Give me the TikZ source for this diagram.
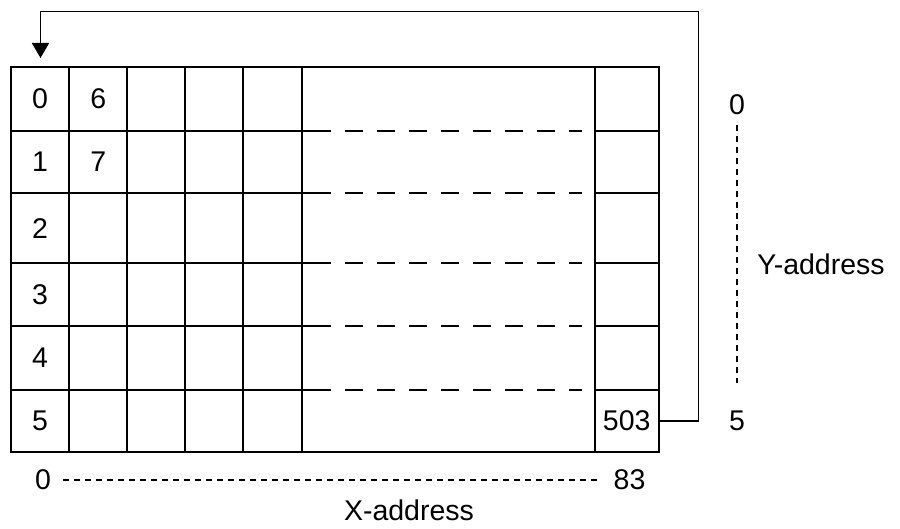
\documentclass[tikz,border=0pt]{standalone}
\usepackage{fontspec}
\setmainfont{Liberation Sans}
\usetikzlibrary{arrows.meta}
\begin{document}
\begin{tikzpicture}[x=1pt,y=-1pt,
  lbl/.style={font=\fontsize{28.5}{30}\selectfont, inner sep=0pt},
  gridline/.style={line width=2pt, line cap=rect},
  axisline/.style={line width=1.2pt, dash pattern=on 6pt off 5pt},
  gapdash/.style={line width=2pt, dash pattern=on 18pt off 14pt},
  loopline/.style={line width=1.8pt, -{Triangle[width=17pt,length=15pt]}}]
\useasboundingbox (0,0) rectangle (900,529);
% outer frame top and bottom
\draw[gridline] (11,67) -- (658.5,67);
\draw[gridline] (11,452.3) -- (658.5,452.3);
% interior row lines
\foreach \y in {130.7,193.3,263.3,326,390}{
  \draw[gridline] (11,\y) -- (330,\y);
  \draw[gapdash] (345,\y) -- (582,\y);
  \draw[gridline] (595,\y) -- (658.5,\y);
}
% column lines
\foreach \x in {11,69.3,127.3,185.3,243.3,301.7,595,658.5}{
  \draw[gridline] (\x,67) -- (\x,452.3);
}
% cell labels
\node[lbl] (c0) at (40,98.8) {0};
\node[lbl] (c1) at (40,162) {1};
\node[lbl] (c2) at (40,228.3) {2};
\node[lbl] (c3) at (40,294.6) {3};
\node[lbl] (c4) at (40,358) {4};
\node[lbl] (c5) at (40,421.2) {5};
\node[lbl] (c6) at (98.3,98.8) {6};
\node[lbl] (c7) at (98.3,162) {7};
\node[lbl, minimum width=63.5pt, minimum height=62.3pt] (c503) at (626.75,421.15) {503};
% loop connector
\coordinate (loopR) at (698.5,11.5);
\coordinate (topin) at (40.5,58);
\draw[loopline] (c503.east) -| (loopR) -| (topin);
% Y axis
\node[lbl] (y0) at (737,105) {0};
\node[lbl] (y5) at (737,421) {5};
\draw[axisline, shorten <=10pt, shorten >=28pt] (y0) -- (y5);
\node[lbl] (yaddr) at (821,264.5) {Y-address};
% X axis
\node[lbl] (x0) at (43,480) {0};
\node[lbl] (x83) at (629.5,480) {83};
\draw[axisline, shorten <=12pt, shorten >=14pt] (x0) -- (x83);
\node[lbl] (xaddr) at (409,510) {X-address};
\end{tikzpicture}
\end{document}
